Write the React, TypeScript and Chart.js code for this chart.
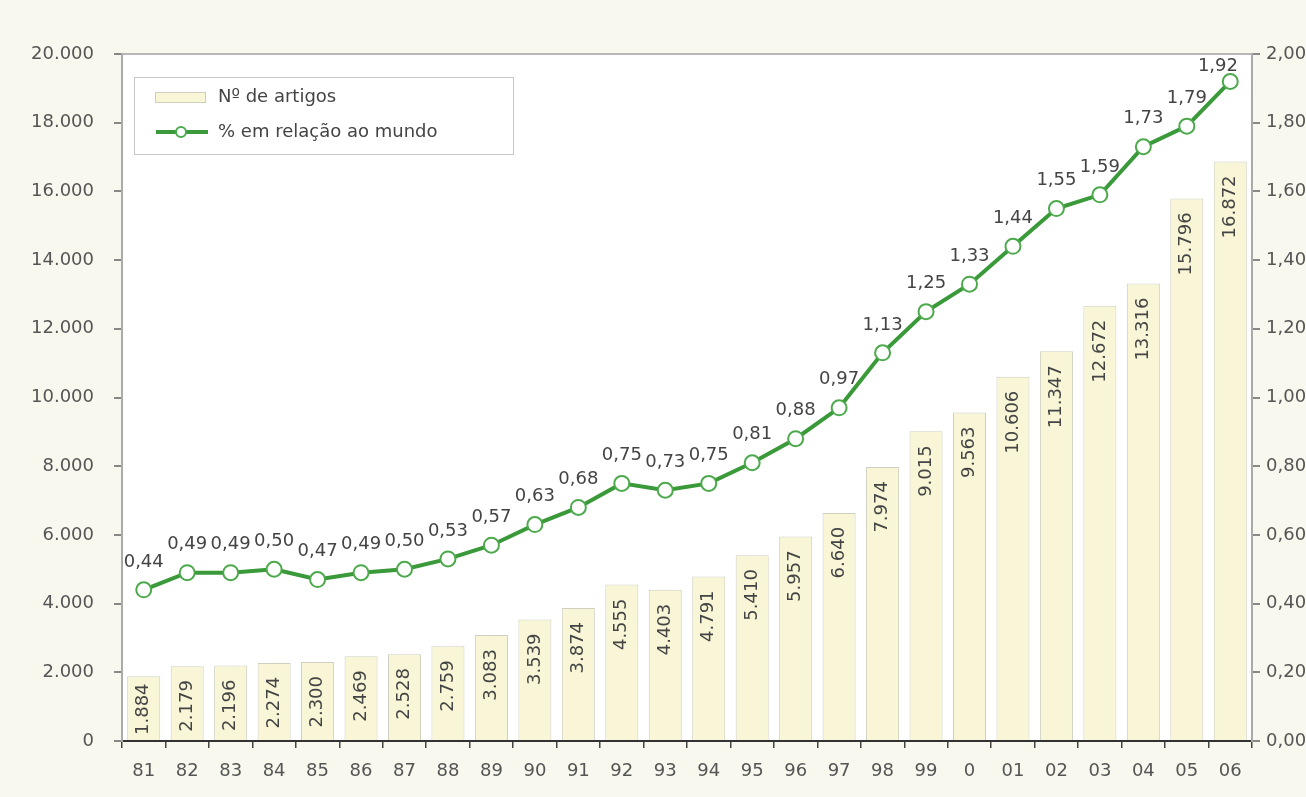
import { useEffect, useRef } from 'react';
import { Chart, registerables } from 'chart.js';

Chart.register(...registerables);

const years = ['81', '82', '83', '84', '85', '86', '87', '88', '89', '90', '91', '92', '93', '94', '95', '96', '97', '98', '99', '0', '01', '02', '03', '04', '05', '06'];
const articles = [1884, 2179, 2196, 2274, 2300, 2469, 2528, 2759, 3083, 3539, 3874, 4555, 4403, 4791, 5410, 5957, 6640, 7974, 9015, 9563, 10606, 11347, 12672, 13316, 15796, 16872];
const worldShare = [0.44, 0.49, 0.49, 0.50, 0.47, 0.49, 0.50, 0.53, 0.57, 0.63, 0.68, 0.75, 0.73, 0.75, 0.81, 0.88, 0.97, 1.13, 1.25, 1.33, 1.44, 1.55, 1.59, 1.73, 1.79, 1.92];
const seriesLabels = ['Nº de artigos', '% em relação ao mundo'];

const FONT = 'DejaVu Sans';
const GREEN = '#3a9a3a';
const POINT_GREEN = '#4caa4c';
const BAR_FILL = '#f8f6d6';
const BAR_BORDER = '#cfcfc0';
const BG = '#f8f8ee';

const fmtThousands = (n: number) => String(Math.round(n)).replace(/\B(?=(\d{3})+(?!\d))/g, '.');
const fmtShare = (v: number) => v.toFixed(2).replace('.', ',');

const backgroundPlugin = {
  id: 'bgPlugin',
  beforeDraw(chart: any) {
    const { ctx, chartArea } = chart;
    ctx.save();
    ctx.fillStyle = BG;
    ctx.fillRect(0, 0, chart.width, chart.height);
    ctx.fillStyle = '#ffffff';
    ctx.fillRect(chartArea.left, chartArea.top, chartArea.right - chartArea.left, chartArea.bottom - chartArea.top);
    ctx.strokeStyle = '#b8b8b8';
    ctx.lineWidth = 2;
    ctx.beginPath();
    ctx.moveTo(chartArea.left, chartArea.top);
    ctx.lineTo(chartArea.right, chartArea.top);
    ctx.stroke();
    ctx.restore();
  },
};

const labelsPlugin = {
  id: 'valueLabels',
  afterDatasetsDraw(chart: any) {
    const { ctx } = chart;
    ctx.save();
    ctx.font = `18px "${FONT}"`;
    ctx.fillStyle = '#444';
    const barMeta = chart.getDatasetMeta(0);
    barMeta.data.forEach((el: any, i: number) => {
      const txt = fmtThousands(articles[i]);
      const len = ctx.measureText(txt).width;
      let top = el.y + 14;
      if (top + len > el.base - 5) top = el.base - 5 - len;
      ctx.save();
      ctx.translate(el.x, top);
      ctx.rotate(-Math.PI / 2);
      ctx.textAlign = 'right';
      ctx.textBaseline = 'middle';
      ctx.fillText(txt, 0, 0);
      ctx.restore();
    });
    ctx.restore();
  },
  afterDraw(chart: any) {
    const { ctx, chartArea } = chart;
    ctx.save();
    ctx.font = `18px "${FONT}"`;
    ctx.fillStyle = '#444';
    ctx.textAlign = 'center';
    ctx.textBaseline = 'middle';
    const lineMeta = chart.getDatasetMeta(1);
    lineMeta.data.forEach((el: any, i: number) => {
      const txt = fmtShare(worldShare[i]);
      const w = ctx.measureText(txt).width;
      let x = el.x;
      let y = el.y - 28;
      if (y < chartArea.top + 12) y = chartArea.top + 12;
      if (x + w / 2 > chartArea.right - 14) x = chartArea.right - 14 - w / 2;
      ctx.fillText(txt, x, y);
    });

    // legend box
    const lx = 134, ly = 77, lw = 379, lh = 77;
    ctx.fillStyle = '#ffffff';
    ctx.fillRect(lx, ly, lw, lh);
    ctx.strokeStyle = '#c8c8c8';
    ctx.lineWidth = 1;
    ctx.strokeRect(lx + 0.5, ly + 0.5, lw, lh);
    ctx.fillStyle = BAR_FILL;
    ctx.fillRect(155, 92, 50, 10);
    ctx.strokeStyle = BAR_BORDER;
    ctx.strokeRect(155.5, 92.5, 50, 10);
    ctx.strokeStyle = GREEN;
    ctx.lineWidth = 4;
    ctx.beginPath();
    ctx.moveTo(156, 132);
    ctx.lineTo(208, 132);
    ctx.stroke();
    ctx.beginPath();
    ctx.arc(181, 132, 5, 0, Math.PI * 2);
    ctx.fillStyle = '#fff';
    ctx.fill();
    ctx.lineWidth = 2;
    ctx.strokeStyle = POINT_GREEN;
    ctx.stroke();
    ctx.fillStyle = '#444';
    ctx.textAlign = 'left';
    ctx.fillText(seriesLabels[0], 218, 97);
    ctx.fillText(seriesLabels[1], 218, 132);
    ctx.restore();
  },
};

export default function App() {
  const canvasRef = useRef<HTMLCanvasElement | null>(null);

  useEffect(() => {
    document.body.style.margin = '0';
    document.body.style.overflow = 'hidden';
    const canvas = canvasRef.current;
    if (!canvas) return;
    const tickFont = { family: FONT, size: 18 };
    const chart = new Chart(canvas, {
      type: 'bar',
      data: {
        labels: years,
        datasets: [
          {
            type: 'bar',
            label: seriesLabels[0],
            data: articles,
            yAxisID: 'y',
            backgroundColor: BAR_FILL,
            borderColor: BAR_BORDER,
            borderWidth: 1,
            barPercentage: 0.76,
            categoryPercentage: 1,
            order: 2,
          },
          {
            type: 'line',
            label: seriesLabels[1],
            data: worldShare,
            yAxisID: 'y1',
            borderColor: GREEN,
            borderWidth: 4,
            pointRadius: 7.5,
            pointBackgroundColor: '#ffffff',
            pointBorderColor: POINT_GREEN,
            pointBorderWidth: 2,
            tension: 0,
            order: 1,
          },
        ],
      } as any,
      options: {
        responsive: false,
        animation: false,
        layout: { padding: { top: 54, left: 0, right: 0, bottom: 0 } },
        plugins: {
          legend: { display: false },
          tooltip: { enabled: false },
        },
        scales: {
          x: {
            type: 'category',
            offset: true,
            grid: { offset: true, drawOnChartArea: false, tickLength: 7, color: '#444', lineWidth: 1.5 },
            border: { color: '#333', width: 2 },
            ticks: { color: '#555', font: tickFont, padding: 13, maxRotation: 0, autoSkip: false },
            afterFit: (s: any) => { s.height = 56; },
          },
          y: {
            position: 'left',
            min: 0,
            max: 20000,
            ticks: { stepSize: 2000, color: '#555', font: tickFont, padding: 20, callback: (v: any) => fmtThousands(Number(v)) },
            grid: { drawOnChartArea: false, tickLength: 8, color: '#888', lineWidth: 2 },
            border: { color: '#aaa', width: 2 },
            afterFit: (s: any) => { s.width = 122; },
          },
          y1: {
            position: 'right',
            min: 0,
            max: 2,
            ticks: { stepSize: 0.2, color: '#555', font: tickFont, padding: 6, callback: (v: any) => fmtShare(Number(v)) },
            grid: { drawOnChartArea: false, tickLength: 8, color: '#888', lineWidth: 2 },
            border: { color: '#aaa', width: 2 },
            afterFit: (s: any) => { s.width = 54; },
          },
        },
      } as any,
      plugins: [backgroundPlugin, labelsPlugin],
    });
    return () => chart.destroy();
  }, []);

  return (
    <div style={{ width: 1306, height: 797, overflow: 'hidden' }}>
      <canvas ref={canvasRef} width={1306} height={797} style={{ display: 'block' }} />
    </div>
  );
}
